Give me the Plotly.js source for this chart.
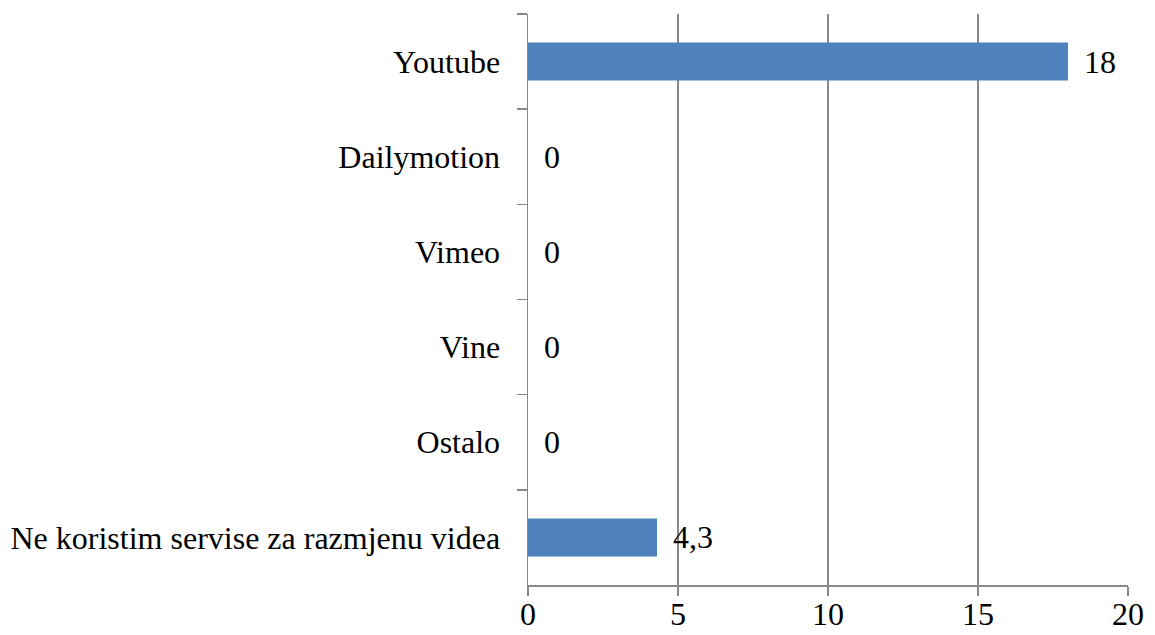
<!DOCTYPE html>
<html>
<head>
<meta charset="utf-8">
<script src="https://cdn.plot.ly/plotly-3.0.1.min.js"></script>
<style>html,body{margin:0;padding:0;background:#fff}#chart{width:1155px;height:635px}</style>
</head>
<body>
<div id="chart"></div>
<script>
const categories = ["Youtube", "Dailymotion", "Vimeo", "Vine", "Ostalo", "Ne koristim servise za razmjenu videa"];
const values = [18, 0, 0, 0, 0, 4.3];
const xTicks = [0, 5, 10, 15, 20];

const labels = values.map(v => String(v).replace('.', ','));
const font = {family: "Liberation Serif", size: 32, color: "#000"};
const gray = "#888888";

const trace = {
  type: "bar",
  orientation: "h",
  y: categories,
  x: values,
  marker: {color: "#4F81BD", line: {width: 0}},
  hoverinfo: "none"
};

const annotations = categories.map((c, i) => ({
  x: values[i], y: c, xref: "x", yref: "y",
  text: labels[i], showarrow: false,
  xanchor: "left", yanchor: "middle",
  xshift: 14, font: font
}));

const layout = {
  width: 1155, height: 635,
  margin: {l: 528, r: 27, t: 14, b: 50},
  paper_bgcolor: "#fff", plot_bgcolor: "#fff",
  showlegend: false,
  bargap: 0.6,
  font: font,
  xaxis: {
    range: [0, 20], tickvals: xTicks, ticktext: xTicks.map(String),
    showgrid: true, gridcolor: gray, gridwidth: 1.5,
    showline: true, linecolor: gray, linewidth: 1.5,
    ticks: "outside", ticklen: 9, tickcolor: gray, tickwidth: 1.5,
    ticklabelstandoff: -9,
    zeroline: false, tickfont: font, fixedrange: true
  },
  yaxis: {
    type: "category", autorange: "reversed",
    tickson: "boundaries",
    showgrid: false,
    showline: true, linecolor: gray, linewidth: 1.5,
    ticks: "outside", ticklen: 10, tickcolor: gray, tickwidth: 1.5,
    ticklabelstandoff: 20,
    zeroline: false, tickfont: font, fixedrange: true
  },
  annotations: annotations
};

Plotly.newPlot("chart", [trace], layout, {displayModeBar: false, staticPlot: true});
</script>
</body>
</html>
